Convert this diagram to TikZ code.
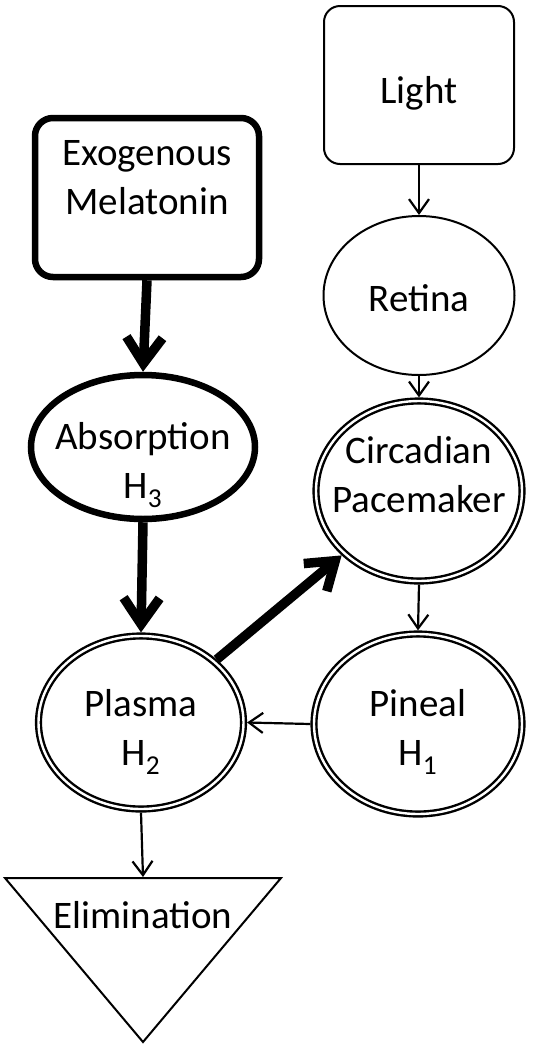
\documentclass[tikz,border=0pt]{standalone}
\usepackage{fontspec}
\setmainfont{Carlito}
\usetikzlibrary{shapes.geometric,arrows.meta}

\begin{document}
\begin{tikzpicture}[x=1pt, y=1pt,
		txt/.style={font=\fontsize{39}{49}\selectfont, align=center, anchor=base, inner sep=0pt},
		dbl/.style={ellipse, draw, double, line width=2.4pt, double distance=2.4pt, outer sep=3.6pt},
		slimarrow/.style={-{Straight Barb[length=14pt,width=20pt]}, line width=2.2pt},
		fatarrow/.style={-{Straight Barb[length=26pt,width=36pt]}, line width=9.5pt}]
		\useasboundingbox (0,0) rectangle (533,-1050);

		% 四角
		\node[draw, rounded corners=16pt, line width=2pt, minimum width=190pt, minimum height=158pt] (light) at (419, -85) {};
		\node[draw, rounded corners=18pt, line width=6.5pt, minimum width=224pt, minimum height=159pt] (exo) at (147, -197.5) {};

		% 楕円
		\node[ellipse, draw, line width=2pt, minimum width=191pt, minimum height=159pt] (retina) at (419, -295.5) {};
		\node[ellipse, draw, line width=6.5pt, minimum width=224pt, minimum height=144pt] (absorp) at (143, -447) {};
		\node[dbl, minimum width=206pt, minimum height=180pt] (circ) at (419, -491) {};
		\node[dbl, minimum width=208pt, minimum height=180pt] (pineal) at (418, -724) {};
		\node[dbl, minimum width=205pt, minimum height=173pt] (plasma) at (141, -722.5) {};

		% 三角
		\coordinate (elimL) at (5, -878);
		\coordinate (elimR) at (281, -878);
		\coordinate (elimB) at (143, -1042);
		\coordinate (elimtop) at (143, -877);
		\draw[line width=2pt] (elimL) -- (elimR) -- (elimB) -- cycle;

		\draw[slimarrow] (light.south) -- (retina.north);
		\draw[slimarrow] (retina.south) -- (circ.north);
		\draw[slimarrow] (circ.south) -- (pineal.north);
		\draw[slimarrow] (pineal.west) -- (plasma.east);
		\draw[slimarrow] (plasma.south) -- (elimtop);
		\draw[fatarrow] (exo.south) -- (absorp.north);
		\draw[fatarrow] (absorp.south) -- (plasma.north);
		\draw[fatarrow] (plasma) -- (circ);

		% 文字 (基線は最終行)
		\node[txt] (lighttxt) at (419, -103) {Light};
		\node[txt] (exotxt) at (147, -214) {Exogenous\\Melatonin};
		\node[txt] (retinatxt) at (419, -311) {Retina};
		\node[txt] (absorptxt) at (143, -498) {Absorption\\H\textsubscript{3}};
		\node[txt] (circtxt) at (419, -512) {Circadian\\Pacemaker};
		\node[txt] (plasmatxt) at (141, -765) {Plasma\\H\textsubscript{2}};
		\node[txt] (pinealtxt) at (418, -765) {Pineal\\H\textsubscript{1}};
		\node[txt] (elimtxt) at (143, -928) {Elimination};
	\end{tikzpicture}
\end{document}
